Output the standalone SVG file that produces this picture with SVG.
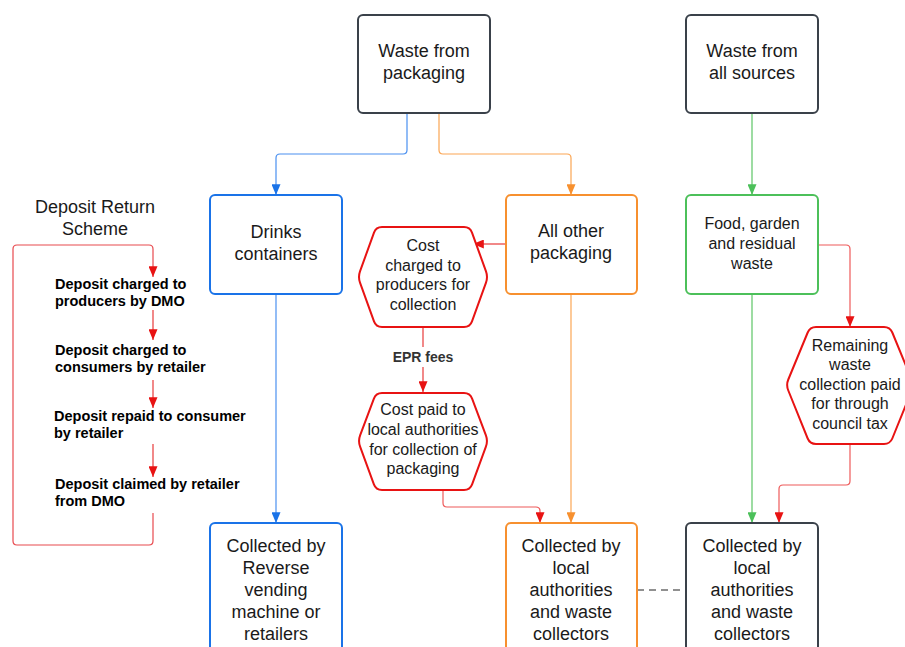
<svg xmlns="http://www.w3.org/2000/svg" width="905" height="647" viewBox="0 0 905 647">
<defs>
<style>
.t{font-family:"Liberation Sans",Arial,sans-serif;font-size:18px;fill:#1a1a1a;text-anchor:middle}
.s{font-size:16px}
.b{font-family:"Liberation Sans",Arial,sans-serif;font-size:14.5px;font-weight:bold;fill:#000}
.box{fill:#fff;stroke-width:2}
.grey{stroke:#3a414a}
.blue{stroke:#1a73e8}
.orange{stroke:#f7902f}
.green{stroke:#4cc05a}
.hex{fill:#fff;stroke:#e81313;stroke-width:2;stroke-linejoin:round}
.c{fill:none;stroke-width:1.2}
</style>
<marker id="ab" viewBox="0 0 12 10" refX="12" refY="5" markerUnits="userSpaceOnUse" markerWidth="11" markerHeight="9" orient="auto"><path d="M0,0L12,5L0,10z" fill="#1a73e8"/></marker>
<marker id="ao" viewBox="0 0 12 10" refX="12" refY="5" markerUnits="userSpaceOnUse" markerWidth="11" markerHeight="9" orient="auto"><path d="M0,0L12,5L0,10z" fill="#f7902f"/></marker>
<marker id="ag" viewBox="0 0 12 10" refX="12" refY="5" markerUnits="userSpaceOnUse" markerWidth="11" markerHeight="9" orient="auto"><path d="M0,0L12,5L0,10z" fill="#4cc05a"/></marker>
<marker id="ar" viewBox="0 0 12 10" refX="12" refY="5" markerUnits="userSpaceOnUse" markerWidth="11" markerHeight="9" orient="auto"><path d="M0,0L12,5L0,10z" fill="#e81313"/></marker>
</defs>
<rect width="905" height="647" fill="#fff"/>

<g id="connectors">
<path class="c" stroke="#4a90f0" d="M407,113V150Q407,154 403,154H280Q276,154 276,158V195" marker-end="url(#ab)"/>
<path class="c" stroke="#fba654" d="M439,113V150Q439,154 443,154H567Q571,154 571,158V195" marker-end="url(#ao)"/>
<path class="c" stroke="#5cc565" d="M752,113V195" marker-end="url(#ag)"/>
<path class="c" stroke="#4a90f0" d="M276,294V523" marker-end="url(#ab)"/>
<path class="c" stroke="#fba654" d="M571,294V523" marker-end="url(#ao)"/>
<path class="c" stroke="#5cc565" d="M752,294V523" marker-end="url(#ag)"/>
<path class="c" stroke="#e83a3a" d="M505,244H473" marker-end="url(#ar)"/>
<path class="c" stroke="#e83a3a" d="M423,327V392" marker-end="url(#ar)"/>
<path class="c" stroke="#ee5a5a" d="M443,490V503Q443,507 447,507H536Q540,507 540,511V523" marker-end="url(#ar)"/>
<path class="c" stroke="#ee5a5a" d="M818,245H846Q850,245 850,249V327" marker-end="url(#ar)"/>
<path class="c" stroke="#ee5a5a" d="M850,444V481Q850,485 846,485H783Q779,485 779,489V523" marker-end="url(#ar)"/>
<path class="c" stroke="#222" stroke-width="1.4" stroke-dasharray="7,5" d="M637,590H686"/>
<path class="c" stroke="#e84a4f" d="M153,513V541Q153,545 149,545H17Q13,545 13,541V249Q13,245 17,245H149Q153,245 153,249V277" marker-end="url(#ar)"/>
<path class="c" stroke="#e83a3a" d="M153,310V340" marker-end="url(#ar)"/>
<path class="c" stroke="#e83a3a" d="M153,380V408" marker-end="url(#ar)"/>
<path class="c" stroke="#e83a3a" d="M153,444V477" marker-end="url(#ar)"/>
<rect x="388" y="347" width="70" height="20" fill="#fff"/>
<text x="423" y="362" class="b" style="font-size:14px;fill:#333;text-anchor:middle">EPR fees</text>
</g>

<g id="waste-packaging">
<rect class="box grey" x="358" y="15" width="132" height="98" rx="5"/>
<text class="t" x="424" y="57">Waste from</text>
<text class="t" x="424" y="79">packaging</text>
</g>
<g id="waste-all">
<rect class="box grey" x="686" y="15" width="132" height="98" rx="5"/>
<text class="t" x="752" y="57">Waste from</text>
<text class="t" x="752" y="79">all sources</text>
</g>
<g id="drinks">
<rect class="box blue" x="210" y="195" width="132" height="99" rx="5"/>
<text class="t" x="276" y="238">Drinks</text>
<text class="t" x="276" y="260">containers</text>
</g>
<g id="other-packaging">
<rect class="box orange" x="506" y="195" width="131" height="99" rx="5"/>
<text class="t" x="571" y="237">All other</text>
<text class="t" x="571" y="259">packaging</text>
</g>
<g id="food">
<rect class="box green" x="686" y="195" width="132" height="99" rx="5"/>
<text class="t s" x="752" y="229">Food, garden</text>
<text class="t s" x="752" y="249">and residual</text>
<text class="t s" x="752" y="269">waste</text>
</g>
<g id="cost-charged">
<path class="hex" d="M360,271.4L374,232.6Q376,227 382,227H464Q470,227 472,232.6L486,271.4Q488,277 486,282.6L472,321.4Q470,327 464,327H382Q376,327 374,321.4L360,282.6Q358,277 360,271.4Z"/>
<text class="t s" x="423" y="251">Cost</text>
<text class="t s" x="423" y="271">charged to</text>
<text class="t s" x="423" y="290">producers for</text>
<text class="t s" x="423" y="310">collection</text>
</g>
<g id="cost-paid">
<path class="hex" d="M360.1,435.4L373.9,398.6Q376,393 382,393H464Q470,393 472.1,398.6L485.9,435.4Q488,441 485.9,446.6L472.1,484.4Q470,490 464,490H382Q376,490 373.9,484.4L360.1,446.6Q358,441 360.1,435.4Z"/>
<text class="t s" x="423" y="415">Cost paid to</text>
<text class="t s" x="423" y="435">local authorities</text>
<text class="t s" x="423" y="455">for collection of</text>
<text class="t s" x="423" y="474">packaging</text>
</g>
<g id="remaining">
<path class="hex" d="M788.3,379.5L807.7,332.5Q810,327 816,327H884Q890,327 892.3,332.5L911.7,379.5Q914,385 911.7,390.5L892.3,438.5Q890,444 884,444H816Q810,444 807.7,438.5L788.3,390.5Q786,385 788.3,379.5Z"/>
<text class="t s" x="850" y="351">Remaining</text>
<text class="t s" x="850" y="370">waste</text>
<text class="t s" x="850" y="390">collection paid</text>
<text class="t s" x="850" y="409">for through</text>
<text class="t s" x="850" y="429">council tax</text>
</g>
<g id="collected-rvm">
<rect class="box blue" x="210" y="523" width="132" height="140" rx="5"/>
<text class="t" x="276" y="552">Collected by</text>
<text class="t" x="276" y="574">Reverse</text>
<text class="t" x="276" y="596">vending</text>
<text class="t" x="276" y="618">machine or</text>
<text class="t" x="276" y="640">retailers</text>
</g>
<g id="collected-la-1">
<rect class="box orange" x="506" y="523" width="131" height="140" rx="5"/>
<text class="t" x="571" y="552">Collected by</text>
<text class="t" x="571" y="574">local</text>
<text class="t" x="571" y="596">authorities</text>
<text class="t" x="571" y="618">and waste</text>
<text class="t" x="571" y="640">collectors</text>
</g>
<g id="collected-la-2">
<rect class="box grey" x="686" y="523" width="132" height="140" rx="5"/>
<text class="t" x="752" y="552">Collected by</text>
<text class="t" x="752" y="574">local</text>
<text class="t" x="752" y="596">authorities</text>
<text class="t" x="752" y="618">and waste</text>
<text class="t" x="752" y="640">collectors</text>
</g>
<g id="drs">
<text class="t" x="95" y="213">Deposit Return</text>
<text class="t" x="95" y="235">Scheme</text>
<text class="b" x="55" y="289">Deposit charged to</text>
<text class="b" x="55" y="306">producers by DMO</text>
<text class="b" x="55" y="355">Deposit charged to</text>
<text class="b" x="55" y="372">consumers by retailer</text>
<text class="b" x="54" y="421">Deposit repaid to consumer</text>
<text class="b" x="54" y="438">by retailer</text>
<text class="b" x="55" y="489">Deposit claimed by retailer</text>
<text class="b" x="55" y="506">from DMO</text>
</g>
</svg>
